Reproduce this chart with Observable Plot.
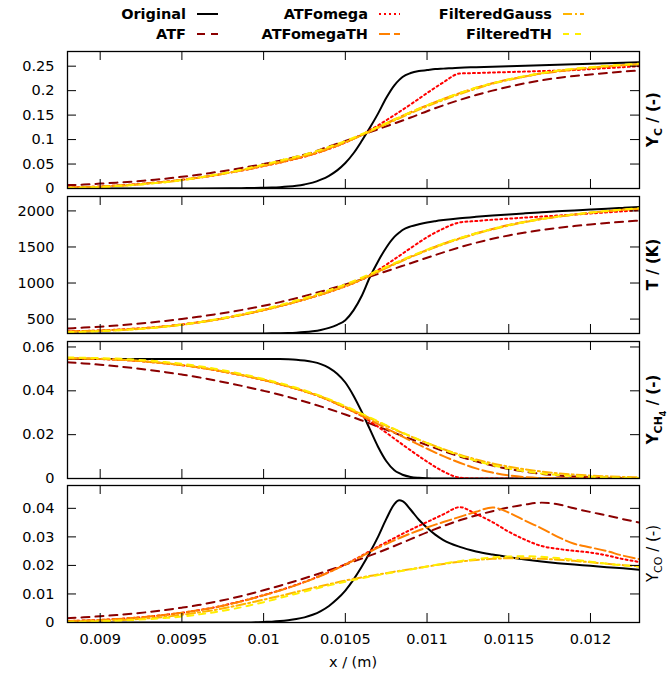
<!DOCTYPE html>
<html><head><meta charset="utf-8">
<script src="https://cdn.jsdelivr.net/npm/d3@7"></script>
<script src="https://cdn.jsdelivr.net/npm/@observablehq/plot@0.6"></script>
<style>
body{margin:0;background:#fff;}
#chart{position:relative;width:672px;height:675px;overflow:hidden;font-family:"DejaVu Sans",sans-serif;background:#fff;}
#chart svg{position:absolute;left:0;}
</style></head><body><div id="chart"></div>
<script>
// ---------- data ----------
const xTicks = [0.009, 0.0095, 0.01, 0.0105, 0.011, 0.0115, 0.012];
const ycTicks = [0, 0.05, 0.1, 0.15, 0.2, 0.25];
const tTicks = [500, 1000, 1500, 2000];
const ch4Ticks = [0, 0.02, 0.04, 0.06];
const coTicks = [0, 0.01, 0.02, 0.03, 0.04];

const seriesNames = ["Original", "ATF", "ATFomega", "ATFomegaTH", "FilteredGauss", "FilteredTH"];

// fine x grid for the original (unfiltered) profile
const xOrig = [0.0088, 0.009, 0.0092, 0.0094, 0.0096, 0.0098, 0.0099, 0.01, 0.01005, 0.0101,
  0.01015, 0.0102, 0.01025, 0.0103, 0.01035, 0.0104, 0.01045, 0.0105, 0.01055, 0.0106,
  0.01065, 0.0107, 0.01075, 0.0108, 0.01083, 0.01085, 0.0109, 0.01095, 0.011, 0.01105,
  0.0111, 0.0112, 0.0113, 0.0114, 0.0115, 0.0116, 0.0117, 0.0118, 0.0119, 0.012, 0.0121, 0.0122, 0.0123];
// x grid for filtered profiles
const xGrid = [0.0088, 0.0089, 0.009, 0.0091, 0.0092, 0.0093, 0.0094, 0.0095, 0.0096, 0.0097,
  0.0098, 0.0099, 0.01, 0.0101, 0.0102, 0.0103, 0.0104, 0.0105, 0.0106, 0.0107,
  0.0108, 0.0109, 0.011, 0.0111, 0.0112, 0.0113, 0.0114, 0.0115, 0.0116, 0.0117,
  0.0118, 0.0119, 0.012, 0.0121, 0.0122, 0.0123];

// Y_C
const ycOriginal = [0, 0, 0, 0, 0.0002, 0.0005, 0.0008, 0.0015, 0.002, 0.0028,
  0.004, 0.0057, 0.0083, 0.012, 0.018, 0.026, 0.037, 0.052, 0.072, 0.097,
  0.124, 0.153, 0.185, 0.211, 0.222, 0.228, 0.236, 0.240, 0.242, 0.244,
  0.245, 0.247, 0.248, 0.249, 0.250, 0.251, 0.252, 0.253, 0.254, 0.255, 0.256, 0.257, 0.258];
const ycATF = [0.007, 0.008, 0.010, 0.012, 0.014, 0.017, 0.020, 0.024, 0.028, 0.033,
  0.038, 0.044, 0.050, 0.057, 0.065, 0.074, 0.086, 0.097, 0.109, 0.121,
  0.133, 0.145, 0.158, 0.170, 0.181, 0.191, 0.200, 0.208, 0.215, 0.221,
  0.226, 0.230, 0.233, 0.236, 0.239, 0.241];
const ycATFomega = [0.002, 0.003, 0.004, 0.006, 0.008, 0.011, 0.014, 0.018, 0.022, 0.027,
  0.033, 0.039, 0.046, 0.053, 0.061, 0.070, 0.081, 0.094, 0.110, 0.129,
  0.150, 0.172, 0.195, 0.217, 0.235, 0.236, 0.237, 0.238, 0.239, 0.240,
  0.241, 0.242, 0.244, 0.246, 0.248, 0.250];
const ycATFomegaTH = [0.002, 0.003, 0.004, 0.006, 0.008, 0.011, 0.014, 0.018, 0.022, 0.027,
  0.033, 0.039, 0.046, 0.053, 0.061, 0.070, 0.081, 0.094, 0.109, 0.125,
  0.141, 0.156, 0.170, 0.183, 0.195, 0.206, 0.215, 0.223, 0.229, 0.235,
  0.239, 0.243, 0.246, 0.249, 0.252, 0.254];
const ycGauss = [0.001, 0.002, 0.003, 0.005, 0.007, 0.010, 0.013, 0.017, 0.022, 0.027,
  0.033, 0.040, 0.047, 0.055, 0.063, 0.072, 0.083, 0.095, 0.109, 0.124,
  0.139, 0.154, 0.168, 0.181, 0.193, 0.204, 0.214, 0.222, 0.229, 0.235,
  0.240, 0.244, 0.247, 0.250, 0.252, 0.254];
const ycTH = [0.001, 0.002, 0.003, 0.005, 0.007, 0.010, 0.013, 0.017, 0.022, 0.028,
  0.034, 0.041, 0.049, 0.057, 0.065, 0.074, 0.085, 0.097, 0.111, 0.126,
  0.141, 0.156, 0.170, 0.183, 0.195, 0.206, 0.215, 0.223, 0.230, 0.236,
  0.241, 0.245, 0.248, 0.251, 0.253, 0.255];

// T
const tOriginal = [300, 300, 300, 300, 300, 300, 300, 301, 302, 304,
  307, 312, 320, 332, 350, 378, 420, 485, 620, 820,
  1080, 1300, 1490, 1640, 1700, 1735, 1785, 1815, 1840, 1858,
  1873, 1898, 1918, 1936, 1952, 1967, 1981, 1994, 2006, 2018, 2030, 2042, 2055];
const tATF = [370, 382, 395, 411, 430, 451, 475, 502, 532, 565,
  600, 640, 685, 735, 790, 850, 913, 980, 1050, 1125,
  1200, 1275, 1350, 1425, 1495, 1558, 1613, 1660, 1700, 1735,
  1765, 1790, 1812, 1832, 1850, 1866];
const tATFomega = [330, 335, 342, 352, 365, 380, 400, 425, 455, 490,
  530, 575, 625, 680, 740, 805, 875, 955, 1050, 1180,
  1330, 1485, 1635, 1755, 1840, 1860, 1878, 1893, 1908, 1922,
  1936, 1950, 1965, 1980, 1995, 2010];
const tATFomegaTH = [330, 335, 342, 352, 365, 380, 400, 425, 455, 490,
  530, 575, 625, 680, 740, 805, 875, 955, 1050, 1160,
  1265, 1365, 1460, 1545, 1620, 1690, 1750, 1805, 1850, 1890,
  1920, 1950, 1975, 1995, 2015, 2030];
const tGauss = [320, 326, 334, 345, 358, 374, 395, 420, 450, 486,
  527, 573, 624, 680, 741, 807, 880, 960, 1052, 1155,
  1258, 1358, 1452, 1537, 1613, 1682, 1743, 1797, 1844, 1885,
  1920, 1950, 1975, 1997, 2017, 2034];
const tTH = [318, 324, 332, 343, 357, 374, 396, 423, 455, 493,
  536, 584, 637, 695, 758, 826, 900, 982, 1075, 1175,
  1275, 1372, 1464, 1548, 1623, 1690, 1750, 1803, 1848, 1888,
  1922, 1952, 1978, 2000, 2020, 2038];

// Y_CH4
const ch4Original = [0.0545, 0.0545, 0.0545, 0.0545, 0.0545, 0.0545, 0.0545, 0.0545, 0.0545, 0.0545,
  0.0544, 0.0542, 0.0538, 0.0532, 0.0522, 0.0505, 0.0478, 0.0438, 0.0378, 0.0305,
  0.0225, 0.0145, 0.0080, 0.0038, 0.0024, 0.0017, 0.0007, 0.0003, 0.0001, 0,
  0, 0, 0, 0, 0, 0, 0, 0, 0, 0, 0, 0, 0];
const ch4ATF = [0.0530, 0.0525, 0.0519, 0.0512, 0.0504, 0.0495, 0.0485, 0.0474, 0.0462, 0.0448,
  0.0433, 0.0417, 0.0400, 0.0382, 0.0362, 0.0340, 0.0317, 0.0292, 0.0265, 0.0237,
  0.0208, 0.0180, 0.0152, 0.0125, 0.0100, 0.0078, 0.0059, 0.0043, 0.0031, 0.0021,
  0.0014, 0.0009, 0.0006, 0.0004, 0.0003, 0.0002];
const ch4ATFomega = [0.0548, 0.0547, 0.0545, 0.0542, 0.0538, 0.0532, 0.0525, 0.0517, 0.0507, 0.0495,
  0.0481, 0.0466, 0.0449, 0.0430, 0.0409, 0.0386, 0.0357, 0.0323, 0.0285, 0.0236,
  0.0182, 0.0128, 0.0077, 0.0032, 0.0004, 0, 0, 0, 0, 0,
  0, 0, 0, 0, 0, 0];
const ch4ATFomegaTH = [0.0548, 0.0547, 0.0545, 0.0542, 0.0538, 0.0532, 0.0525, 0.0517, 0.0507, 0.0495,
  0.0481, 0.0466, 0.0449, 0.0430, 0.0409, 0.0386, 0.0357, 0.0323, 0.0287, 0.0248,
  0.0210, 0.0172, 0.0136, 0.0102, 0.0072, 0.0046, 0.0027, 0.0014, 0.0006, 0.0002,
  0.0001, 0, 0, 0, 0, 0];
const ch4Gauss = [0.0549, 0.0548, 0.0546, 0.0543, 0.0539, 0.0533, 0.0526, 0.0518, 0.0508, 0.0496,
  0.0482, 0.0467, 0.0450, 0.0431, 0.0410, 0.0387, 0.0359, 0.0327, 0.0293, 0.0258,
  0.0224, 0.0192, 0.0162, 0.0134, 0.0109, 0.0087, 0.0069, 0.0054, 0.0042, 0.0032,
  0.0024, 0.0018, 0.0013, 0.0010, 0.0007, 0.0005];
const ch4TH = [0.0552, 0.0551, 0.0549, 0.0547, 0.0543, 0.0538, 0.0531, 0.0523, 0.0513, 0.0501,
  0.0487, 0.0471, 0.0454, 0.0435, 0.0414, 0.0390, 0.0362, 0.0330, 0.0296, 0.0261,
  0.0226, 0.0193, 0.0162, 0.0132, 0.0105, 0.0081, 0.0061, 0.0045, 0.0033, 0.0023,
  0.0016, 0.0011, 0.0008, 0.0005, 0.0003, 0.0002];

// Y_CO
const coOriginal = [0, 0, 0, 0, 0, 0, 0, 0.0002, 0.0003, 0.0005,
  0.0008, 0.0012, 0.0018, 0.0027, 0.004, 0.0058, 0.0082, 0.0112, 0.015, 0.0195,
  0.0245, 0.030, 0.0362, 0.0415, 0.0428, 0.0425, 0.0395, 0.036, 0.0332, 0.0308,
  0.0289, 0.0265, 0.0249, 0.0238, 0.0229, 0.0221, 0.0214, 0.0208, 0.0203, 0.0199, 0.0194, 0.019, 0.0185];
const coATF = [0.0015, 0.0018, 0.0022, 0.0026, 0.0031, 0.0037, 0.0044, 0.0052, 0.0061, 0.0072,
  0.0084, 0.0098, 0.0113, 0.0129, 0.0146, 0.0164, 0.0183, 0.0203, 0.0224, 0.0245,
  0.0268, 0.0292, 0.0316, 0.0338, 0.0358, 0.0375, 0.0390, 0.0403, 0.0413, 0.0420,
  0.0414, 0.0400, 0.0387, 0.0375, 0.0362, 0.0350];
const coATFomega = [0.0005, 0.0007, 0.0009, 0.0012, 0.0016, 0.0021, 0.0027, 0.0034, 0.0043, 0.0053,
  0.0066, 0.0080, 0.0096, 0.0113, 0.0132, 0.0153, 0.0177, 0.0204, 0.0234, 0.0266,
  0.0296, 0.0325, 0.0352, 0.0379, 0.0404, 0.0380, 0.0352, 0.0318, 0.0290, 0.0268,
  0.0258, 0.0251, 0.0245, 0.0235, 0.0222, 0.0212];
const coATFomegaTH = [0.0005, 0.0007, 0.0009, 0.0012, 0.0016, 0.0021, 0.0027, 0.0034, 0.0043, 0.0053,
  0.0065, 0.0079, 0.0095, 0.0112, 0.0131, 0.0152, 0.0176, 0.0203, 0.0232, 0.0262,
  0.0288, 0.0312, 0.0333, 0.0352, 0.0370, 0.0388, 0.0403, 0.0385, 0.0357, 0.0330,
  0.0300, 0.0276, 0.0263, 0.0250, 0.0234, 0.0222];
const coGauss = [0.0003, 0.0004, 0.0006, 0.0008, 0.0011, 0.0015, 0.0020, 0.0027, 0.0035, 0.0044,
  0.0055, 0.0067, 0.0080, 0.0093, 0.0107, 0.0121, 0.0134, 0.0147, 0.0158, 0.0168,
  0.0178, 0.0187, 0.0196, 0.0205, 0.0213, 0.0219, 0.0223, 0.0225, 0.0225, 0.0223,
  0.0220, 0.0216, 0.0211, 0.0206, 0.0201, 0.0197];
const coTH = [0.0002, 0.0003, 0.0004, 0.0006, 0.0009, 0.0012, 0.0016, 0.0021, 0.0028, 0.0036,
  0.0046, 0.0058, 0.0071, 0.0086, 0.0101, 0.0116, 0.0130, 0.0143, 0.0155, 0.0166,
  0.0176, 0.0186, 0.0196, 0.0206, 0.0215, 0.0222, 0.0228, 0.0231, 0.0232, 0.0230,
  0.0226, 0.0220, 0.0213, 0.0206, 0.0200, 0.0195];

// ---------- styles ----------
const styles = {
  Original:      {stroke: "#000000", dash: null,      width: 2},
  ATF:           {stroke: "#8b0000", dash: "8,6",     width: 2},
  ATFomega:      {stroke: "#ff0000", dash: "2,3",     width: 2},
  ATFomegaTH:    {stroke: "#ff8000", dash: "11,4",    width: 2},
  FilteredGauss: {stroke: "#ffb400", dash: "9,3,2,3", width: 2},
  FilteredTH:    {stroke: "#ffee00", dash: "6,6",     width: 2}
};

const zip = (xs, ys) => xs.map((x, i) => ({x, y: ys[i]})).filter(d => d.y !== undefined);

const panels = [
  {top: 51, domain: [0, 0.28], ticks: ycTicks, fmt: d3.format("~g"), label: [["Y"], ["C", 1], [" / (-)"]], bold: true,
   data: [zip(xOrig, ycOriginal), zip(xGrid, ycATF), zip(xGrid, ycATFomega), zip(xGrid, ycATFomegaTH), zip(xGrid, ycGauss), zip(xGrid, ycTH)]},
  {top: 196, domain: [300, 2200], ticks: tTicks, fmt: d3.format("d"), label: [["T / (K)"]], bold: true,
   data: [zip(xOrig, tOriginal), zip(xGrid, tATF), zip(xGrid, tATFomega), zip(xGrid, tATFomegaTH), zip(xGrid, tGauss), zip(xGrid, tTH)]},
  {top: 341, domain: [0, 0.0625], ticks: ch4Ticks, fmt: d3.format("~g"), label: [["Y"], ["CH", 1], ["4", 2], [" / (-)"]], bold: true,
   data: [zip(xOrig, ch4Original), zip(xGrid, ch4ATF), zip(xGrid, ch4ATFomega), zip(xGrid, ch4ATFomegaTH), zip(xGrid, ch4Gauss), zip(xGrid, ch4TH)]},
  {top: 485, domain: [0, 0.048], ticks: coTicks, fmt: d3.format("~g"), label: [["Y"], ["CO", 1], [" / (-)"]], bold: false, showX: true,
   data: [zip(xOrig, coOriginal), zip(xGrid, coATF), zip(xGrid, coATFomega), zip(xGrid, coATFomegaTH), zip(xGrid, coGauss), zip(xGrid, coTH)]}
];

const chart = document.getElementById("chart");
const W = 672, ML = 67, MR = 33, H = 137;
const FW = W - ML - MR;

panels.forEach(p => {
  const mt = 3, mb = p.showX ? 60 : 3;
  const marks = [
    ...p.data.map((d, i) => {
      const s = styles[seriesNames[i]];
      return Plot.line(d, {x: "x", y: "y", stroke: s.stroke, strokeWidth: s.width,
        strokeDasharray: s.dash, curve: "monotone-x", clip: true});
    }),
    Plot.tickY(p.ticks, {y: d => d, stroke: "#000", strokeWidth: 1, insetRight: FW - 9}),
    Plot.tickY(p.ticks, {y: d => d, stroke: "#000", strokeWidth: 1, insetLeft: FW - 9}),
    Plot.tickX(xTicks, {x: d => d, stroke: "#000", strokeWidth: 1, insetBottom: H - 9}),
    Plot.tickX(xTicks, {x: d => d, stroke: "#000", strokeWidth: 1, insetTop: H - 9}),
    Plot.frame({stroke: "#000", strokeWidth: 1.3}),
    Plot.axisY({ticks: p.ticks, tickSize: 0, tickPadding: 13, tickFormat: p.fmt, label: null, fill: "#000"})
  ];
  if (p.showX) marks.push(Plot.axisX({ticks: xTicks, tickSize: 0, tickPadding: 11, tickFormat: d3.format("~g"), label: null, fill: "#000"}));
  const svg = Plot.plot({
    width: W, height: mt + H + mb,
    marginLeft: ML, marginRight: MR, marginTop: mt, marginBottom: mb,
    x: {domain: [0.0088, 0.0123], axis: p.showX ? undefined : null},
    y: {domain: p.domain},
    style: {fontFamily: "DejaVu Sans", fontSize: "14.5px", background: "transparent", color: "#000", overflow: "visible"},
    marks
  });
  svg.style.top = (p.top - mt) + "px";
  const t = d3.select(svg).append("text")
    .attr("transform", `translate(658,${mt + H / 2}) rotate(-90)`)
    .attr("text-anchor", "middle")
    .attr("font-family", "DejaVu Sans")
    .attr("font-size", 15)
    .attr("font-weight", p.bold ? "bold" : "normal")
    .attr("fill", "#000")
    .attr("dy", "0.35em");
  let level = 0;
  p.label.forEach(([txt, lv = 0]) => {
    const shift = (lv - level) * 4;
    t.append("tspan").attr("dy", shift).attr("font-size", lv === 0 ? 15 : lv === 1 ? 11 : 8).text(txt);
    level = lv;
  });
  if (p.showX) {
    d3.select(svg).append("text")
      .attr("x", 353).attr("y", mt + H + 40)
      .attr("text-anchor", "middle")
      .attr("font-family", "DejaVu Sans").attr("font-size", 14.5).attr("fill", "#000")
      .attr("dy", "0.35em")
      .text("x / (m)");
  }
  chart.appendChild(svg);
});

// ---------- legend ----------
const legendCols = [186, 368, 552];
const legendRows = [14, 34];
const legendOrder = [["Original", 0, 0], ["ATF", 0, 1], ["ATFomega", 1, 0], ["ATFomegaTH", 1, 1], ["FilteredGauss", 2, 0], ["FilteredTH", 2, 1]];
const leg = d3.select(chart).append("svg").attr("width", W).attr("height", 46).style("top", "0px");
legendOrder.forEach(([name, c, r]) => {
  const s = styles[name];
  const xe = legendCols[c], y = legendRows[r];
  leg.append("text").attr("x", xe).attr("y", y).attr("dy", "0.35em")
    .attr("text-anchor", "end").attr("font-family", "DejaVu Sans").attr("font-weight", "bold")
    .attr("font-size", 14.5).attr("fill", "#000").text(name);
  leg.append("line").attr("x1", xe + 11).attr("x2", xe + 32).attr("y1", y).attr("y2", y)
    .attr("stroke", s.stroke).attr("stroke-width", s.width).attr("stroke-dasharray", s.dash);
});
</script></body></html>
